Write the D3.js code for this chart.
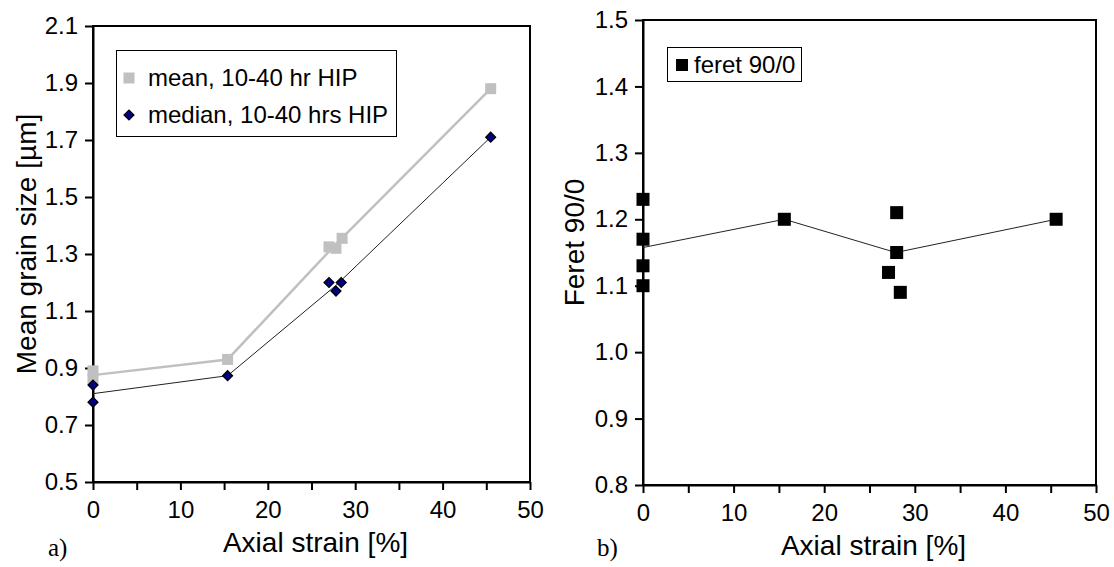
<!DOCTYPE html>
<html>
<head>
<meta charset="utf-8">
<title>Grain size and feret ratio vs axial strain</title>
<style>
  body { margin: 0; background: #fff; }
  text { font-family: "Liberation Sans", Arial, sans-serif; fill: #000; }
</style>
</head>
<body>
<script src="https://cdn.jsdelivr.net/npm/d3@7/dist/d3.min.js"></script>
<script>

// ---- panel a) data ----
var meanPts   = [[0, 0.89], [0, 0.86], [15.4, 0.93], [27.0, 1.325], [27.8, 1.32], [28.5, 1.355], [45.5, 1.88]];
var meanLine  = [[0, 0.875], [15.4, 0.93], [27.8, 1.335], [45.5, 1.88]];
var medianPts = [[0, 0.84], [0, 0.78], [15.4, 0.873], [27.0, 1.20], [27.8, 1.17], [28.4, 1.20], [45.5, 1.71]];
var medianLine = [[0, 0.81], [15.4, 0.873], [27.8, 1.19], [45.5, 1.71]];
var yTicksA = [0.5, 0.7, 0.9, 1.1, 1.3, 1.5, 1.7, 1.9, 2.1];

// ---- panel b) data ----
var feretPts  = [[0, 1.23], [0, 1.17], [0, 1.13], [0, 1.10], [15.6, 1.20],
                 [28.0, 1.21], [28.0, 1.15], [27.1, 1.12], [28.4, 1.09], [45.6, 1.20]];
var feretLine = [[0, 1.1575], [15.6, 1.20], [27.9, 1.15], [45.6, 1.20]];
var yTicksB = [0.8, 0.9, 1.0, 1.1, 1.2, 1.3, 1.4, 1.5];

var xTicks = [0, 5, 10, 15, 20, 25, 30, 35, 40, 45, 50];

var svg = d3.select("body").append("svg")
    .attr("width", 1114)
    .attr("height", 567);

function panel(box, yDomain, yTicks, yTitle, tag) {
    var x = d3.scaleLinear().domain([0, 50]).range([box.left, box.right]);
    var y = d3.scaleLinear().domain(yDomain).range([box.bottom, box.top]);

    // plot frame
    svg.append("rect")
        .attr("x", box.left).attr("y", box.top)
        .attr("width", box.right - box.left)
        .attr("height", box.bottom - box.top)
        .style("fill", "none")
        .style("stroke", "#000")
        .style("stroke-width", 2);

    var xa = svg.append("g")
        .attr("transform", "translate(0," + box.bottom + ")")
        .call(d3.axisBottom(x).tickValues(xTicks).tickSize(8).tickSizeOuter(0).tickPadding(11)
            .tickFormat(function(d) { return d % 10 === 0 ? d : ""; }));

    var ya = svg.append("g")
        .attr("transform", "translate(" + box.left + ",0)")
        .call(d3.axisLeft(y).tickValues(yTicks).tickSize(8).tickSizeOuter(0).tickPadding(7)
            .tickFormat(d3.format(".1f")));

    [xa, ya].forEach(function(a) {
        a.select(".domain").style("stroke-width", 2);
        a.selectAll(".tick line").style("stroke-width", 2);
        a.selectAll("text").style("font-size", "24px").style("font-family", "Liberation Sans, Arial, sans-serif");
    });

    svg.append("text")
        .attr("x", (box.left + box.right) / 2 + 4)
        .attr("y", box.bottom + 70)
        .attr("text-anchor", "middle")
        .style("font-size", "28px")
        .text("Axial strain [%]");

    svg.append("text")
        .attr("transform", "translate(" + box.titleX + "," + ((box.top + box.bottom) / 2 - 10) + ") rotate(-90)")
        .attr("text-anchor", "middle")
        .style("font-size", "28px")
        .text(yTitle);

    svg.append("text")
        .attr("x", box.tagX)
        .attr("y", 556)
        .style("font-family", "Liberation Serif, Times New Roman, serif")
        .style("font-size", "25px")
        .text(tag);

    return { x: x, y: y };
}

// ---- panel a) ----
var a = panel({ left: 93, right: 530, top: 26, bottom: 482, titleX: 36, tagX: 48 },
    [0.5, 2.1], yTicksA, "Mean grain size [\u00b5m]", "a)");

var lineA = d3.line().x(function(d) { return a.x(d[0]); }).y(function(d) { return a.y(d[1]); });

svg.append("path").datum(meanLine).attr("d", lineA)
    .style("fill", "none").style("stroke", "#c0c0c0").style("stroke-width", 2.5);
svg.append("path").datum(medianLine).attr("d", lineA)
    .style("fill", "none").style("stroke", "#222").style("stroke-width", 1);

svg.selectAll(".mean").data(meanPts).enter().append("rect")
    .attr("x", function(d) { return a.x(d[0]) - 5.5; })
    .attr("y", function(d) { return a.y(d[1]) - 5.5; })
    .attr("width", 11).attr("height", 11)
    .style("fill", "#c0c0c0");

var diamond = d3.symbol().type(d3.symbolSquare).size(50);
svg.selectAll(".median").data(medianPts).enter().append("path")
    .attr("d", diamond)
    .attr("transform", function(d) { return "translate(" + a.x(d[0]) + "," + a.y(d[1]) + ") rotate(45)"; })
    .style("fill", "#000080").style("stroke", "#000").style("stroke-width", 1.2);

// legend a
svg.append("rect").attr("x", 116.5).attr("y", 50.5).attr("width", 280).attr("height", 86)
    .style("fill", "#fff").style("stroke", "#000").style("stroke-width", 1);
svg.append("rect").attr("x", 123.5).attr("y", 72.5).attr("width", 11).attr("height", 11).style("fill", "#c0c0c0");
svg.append("path").attr("d", diamond).attr("transform", "translate(129,115) rotate(45)")
    .style("fill", "#000080").style("stroke", "#000").style("stroke-width", 1.2);
svg.append("text").attr("x", 148).attr("y", 86).style("font-size", "24px").text("mean, 10-40 hr HIP");
svg.append("text").attr("x", 148).attr("y", 123).style("font-size", "24px").text("median, 10-40 hrs HIP");

// ---- panel b) ----
var b = panel({ left: 643, right: 1096, top: 20, bottom: 485, titleX: 584, tagX: 597 },
    [0.8, 1.5], yTicksB, "Feret 90/0", "b)");

var lineB = d3.line().x(function(d) { return b.x(d[0]); }).y(function(d) { return b.y(d[1]); });

svg.append("path").datum(feretLine).attr("d", lineB)
    .style("fill", "none").style("stroke", "#222").style("stroke-width", 1);

svg.selectAll(".feret").data(feretPts).enter().append("rect")
    .attr("x", function(d) { return b.x(d[0]) - 6.5; })
    .attr("y", function(d) { return b.y(d[1]) - 6.5; })
    .attr("width", 13).attr("height", 13)
    .style("fill", "#000");

// legend b
svg.append("rect").attr("x", 667.5).attr("y", 47.5).attr("width", 134).attr("height", 34)
    .style("fill", "#fff").style("stroke", "#000").style("stroke-width", 1);
svg.append("rect").attr("x", 676).attr("y", 59).attr("width", 12).attr("height", 12).style("fill", "#000");
svg.append("text").attr("x", 694).attr("y", 73).style("font-size", "24px").text("feret 90/0");

</script>
</body>
</html>
